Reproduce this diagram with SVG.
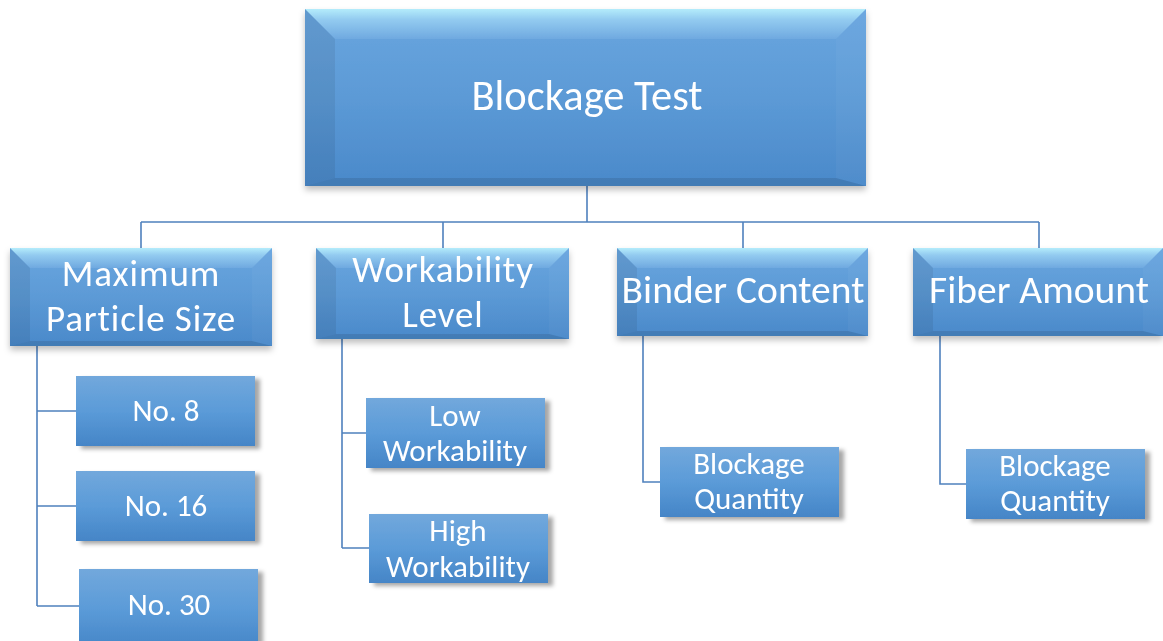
<svg xmlns="http://www.w3.org/2000/svg" width="1163" height="641" viewBox="0 0 1163 641">
<defs>
<linearGradient id="gMain" x1="0" y1="0" x2="0" y2="1">
<stop offset="0" stop-color="#6AA6DF"/>
<stop offset="0.5" stop-color="#5C9AD6"/>
<stop offset="1" stop-color="#4A89CA"/>
</linearGradient>
<linearGradient id="gTop" x1="0" y1="0" x2="0" y2="1">
<stop offset="0" stop-color="#B4ECFB"/>
<stop offset="0.35" stop-color="#93CBF0"/>
<stop offset="1" stop-color="#6FA9E0"/>
</linearGradient>
<linearGradient id="gLeaf" x1="0" y1="0" x2="0" y2="1">
<stop offset="0" stop-color="#72A8DC"/>
<stop offset="0.5" stop-color="#5B9BD8"/>
<stop offset="1" stop-color="#4585C7"/>
</linearGradient>
<filter id="shBevel" x="-10%" y="-10%" width="120%" height="130%">
<feDropShadow dx="0" dy="4" stdDeviation="3" flood-color="#000" flood-opacity="0.25"/>
</filter>
<filter id="shLeaf" x="-10%" y="-10%" width="125%" height="130%">
<feDropShadow dx="5" dy="3" stdDeviation="2" flood-color="#000" flood-opacity="0.35"/>
</filter>
</defs>
<style>
.lbl{font-family:Carlito,Lato,"Liberation Sans",sans-serif;fill:#fff;text-anchor:middle}
.t0{font-size:42.5px}
.t1{font-size:39.5px}
.t1b{font-size:37px;letter-spacing:0.9px}
.t2{font-size:31px}
.conn{fill:none;stroke:#4F81BD;stroke-width:1.6}
.side{fill:#000;fill-opacity:0.07}
.sideR{fill:#fff;fill-opacity:0.03}
.bot{fill:#000;fill-opacity:0.1}
</style>
<g id="connectors">
<path class="conn" d="M587,186 V222 M141,222 H1039 M141,222 V248 M443,222 V248 M743,222 V248 M1039,222 V248"/>
<path class="conn" d="M37,346 V606 M37,411 H76 M37,506 H76 M37,606 H79"/>
<path class="conn" d="M342,339 V548 M342,433 H366 M342,548 H369"/>
<path class="conn" d="M643,336 V482 H660"/>
<path class="conn" d="M940,336 V484 H966"/>
</g>
<g id="node-root" filter="url(#shBevel)">
<rect x="305" y="9" width="561" height="177" fill="url(#gMain)"/>
<polygon fill="url(#gTop)" points="305,9 866,9 836,39 335,39"/>
<polygon class="side" points="305,9 335,39 335,178 305,186"/>
<polygon class="sideR" points="866,9 836,39 836,178 866,186"/>
<polygon class="bot" points="305,186 335,178 836,178 866,186"/>
<text class="lbl t0" x="587" y="110">Blockage Test</text>
</g>
<g id="node-mps" filter="url(#shBevel)">
<rect x="10" y="248" width="262" height="98" fill="url(#gMain)"/>
<polygon fill="url(#gTop)" points="10,248 272,248 252,268 30,268"/>
<polygon class="side" points="10,248 30,268 30,341 10,346"/>
<polygon class="sideR" points="272,248 252,268 252,341 272,346"/>
<polygon class="bot" points="10,346 30,341 252,341 272,346"/>
<text class="lbl t1b" x="141" y="286">Maximum</text>
<text class="lbl t1b" x="141" y="331">Particle Size</text>
</g>
<g id="node-wl" filter="url(#shBevel)">
<rect x="316" y="248" width="253" height="91" fill="url(#gMain)"/>
<polygon fill="url(#gTop)" points="316,248 569,248 549,268 336,268"/>
<polygon class="side" points="316,248 336,268 336,334 316,339"/>
<polygon class="sideR" points="569,248 549,268 549,334 569,339"/>
<polygon class="bot" points="316,339 336,334 549,334 569,339"/>
<text class="lbl t1b" x="443" y="282">Workability</text>
<text class="lbl t1b" x="443" y="327">Level</text>
</g>
<g id="node-bc" filter="url(#shBevel)">
<rect x="617" y="248" width="251" height="88" fill="url(#gMain)"/>
<polygon fill="url(#gTop)" points="617,248 868,248 848,268 637,268"/>
<polygon class="side" points="617,248 637,268 637,331 617,336"/>
<polygon class="sideR" points="868,248 848,268 848,331 868,336"/>
<polygon class="bot" points="617,336 637,331 848,331 868,336"/>
<text class="lbl t1" x="743" y="303">Binder Content</text>
</g>
<g id="node-fa" filter="url(#shBevel)">
<rect x="913" y="248" width="250" height="88" fill="url(#gMain)"/>
<polygon fill="url(#gTop)" points="913,248 1163,248 1143,268 933,268"/>
<polygon class="side" points="913,248 933,268 933,331 913,336"/>
<polygon class="sideR" points="1163,248 1143,268 1143,331 1163,336"/>
<polygon class="bot" points="913,336 933,331 1143,331 1163,336"/>
<text class="lbl t1" x="1039" y="303">Fiber Amount</text>
</g>
<g id="node-no8" filter="url(#shLeaf)">
<rect x="76" y="376" width="179" height="70" fill="url(#gLeaf)"/>
<text class="lbl t2" x="166" y="421">No. 8</text>
</g>
<g id="node-no16" filter="url(#shLeaf)">
<rect x="76" y="471" width="179" height="70" fill="url(#gLeaf)"/>
<text class="lbl t2" x="166" y="516">No. 16</text>
</g>
<g id="node-no30" filter="url(#shLeaf)">
<rect x="79" y="569" width="179" height="80" fill="url(#gLeaf)"/>
<text class="lbl t2" x="169" y="615">No. 30</text>
</g>
<g id="node-low" filter="url(#shLeaf)">
<rect x="366" y="398" width="179" height="70" fill="url(#gLeaf)"/>
<text class="lbl t2" x="455" y="426">Low</text>
<text class="lbl t2" x="455" y="461">Workability</text>
</g>
<g id="node-high" filter="url(#shLeaf)">
<rect x="369" y="514" width="179" height="69" fill="url(#gLeaf)"/>
<text class="lbl t2" x="458" y="541">High</text>
<text class="lbl t2" x="458" y="577">Workability</text>
</g>
<g id="node-bq1" filter="url(#shLeaf)">
<rect x="660" y="447" width="179" height="70" fill="url(#gLeaf)"/>
<text class="lbl t2" x="749" y="474">Blockage</text>
<text class="lbl t2" x="749" y="509">Quantity</text>
</g>
<g id="node-bq2" filter="url(#shLeaf)">
<rect x="966" y="449" width="179" height="70" fill="url(#gLeaf)"/>
<text class="lbl t2" x="1055" y="476">Blockage</text>
<text class="lbl t2" x="1055" y="511">Quantity</text>
</g>
</svg>
